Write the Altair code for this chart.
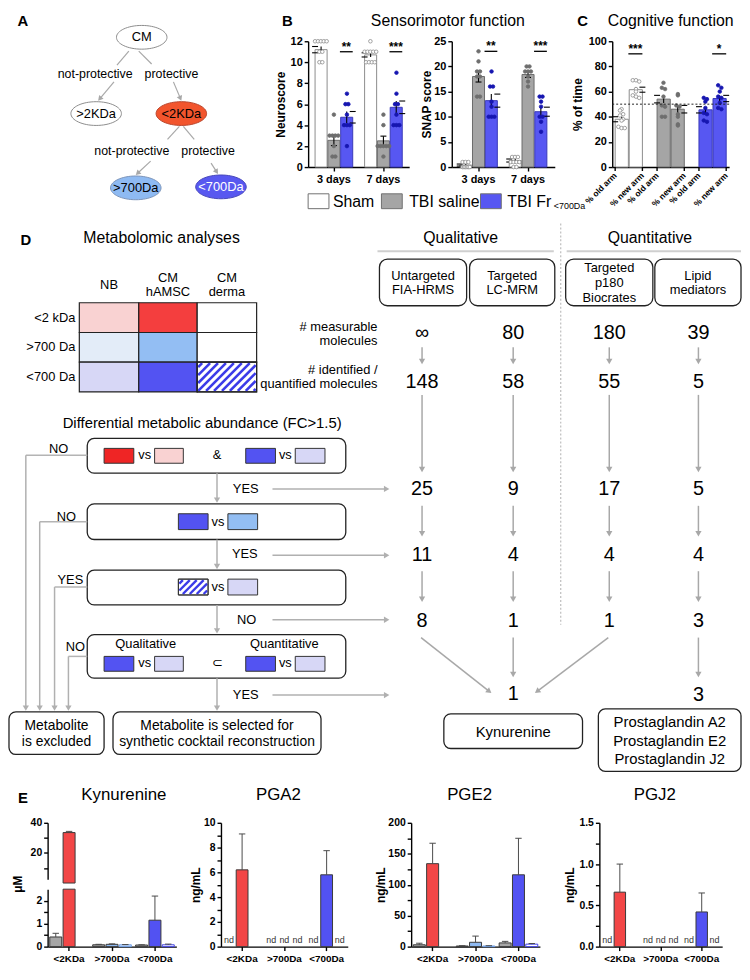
import altair as alt
import pandas as pd
import numpy as np
from collections import Counter

FONT = "Liberation Sans"

# =============================== DATA ===============================
groups = ["Sham", "TBI saline", "TBI Fr<700Da"]
days = ["3 days", "7 days"]

# B - Neuroscore
neuro_mean_3d = [11.2, 2.55, 4.75]
neuro_mean_7d = [10.7, 2.5, 5.7]
neuro_sem_3d = [0.3, 0.5, 0.55]
neuro_sem_7d = [0.2, 0.45, 0.6]
neuro_pts_3d = [[12, 12, 12, 12, 12, 11, 11, 10, 10], [5, 3, 3, 3, 3, 2, 1, 1], [7, 6, 6, 5, 4, 4, 4, 2]]
neuro_pts_7d = [[12, 11, 11, 11, 11, 11, 10, 10, 10, 10], [5, 4, 2, 2, 2, 2, 2, 1], [9, 7, 6, 6, 5, 4, 4, 4]]
neuro_stars = ["**", "***"]
neuro_ticks = [0, 2, 4, 6, 8, 10, 12]

# B - SNAP score
snap_mean_3d = [0.4, 18.0, 13.2]
snap_mean_7d = [1.3, 18.4, 11.0]
snap_sem_3d = [0.2, 1.1, 1.3]
snap_sem_7d = [0.3, 0.6, 0.9]
snap_pts_3d = [[1, 1, 1, 0, 0, 0, 0, 0, 0], [23, 21, 19, 19, 18, 18, 14, 14], [19, 16, 16, 13, 12, 10, 10, 10]]
snap_pts_7d = [[2, 2, 2, 1, 1, 1, 1, 0, 0], [20, 20, 19, 19, 19, 18, 17, 16], [14, 14, 13, 12, 10, 10, 9, 7]]
snap_stars = ["**", "***"]
snap_ticks = [0, 5, 10, 15, 20, 25]

# C - cognitive function, % of time
arms = ["% old arm", "% new arm"]
cog_mean_old = [38.0, 54.0, 45.5]
cog_mean_new = [61.5, 46.0, 54.5]
cog_sem_old = [2.0, 3.0, 2.5]
cog_sem_new = [2.0, 3.0, 2.5]
cog_pts_old = [[46, 45, 42, 41, 38, 37, 32, 31, 31], [67, 63, 62, 56, 49, 48, 40, 40], [55, 54, 52, 47, 43, 42, 37, 36]]
cog_pts_new = [[69, 69, 68, 62, 60, 57, 56, 55], [58, 57, 49, 48, 42, 40, 34, 33], [65, 63, 60, 56, 55, 51, 47, 46]]
cog_stars = ["***", "", "*"]
cog_ticks = [0, 20, 40, 60, 80, 100]
cog_chance = 50

# A - fractionation tree
a_nodes = ["CM", ">2KDa", "<2KDa", ">700Da", "<700Da"]
a_edge_labels = ["not-protective", "protective", "not-protective", "protective"]

# D - metabolomic analyses
table_cols = [["NB"], ["CM", "hAMSC"], ["CM", "derma"]]
table_rows = ["<2 kDa", ">700 Da", "<700 Da"]
methods = [["Untargeted", "FIA-HRMS"], ["Targeted", "LC-MRM"], ["Targeted", "p180", "Biocrates"], ["Lipid", "mediators"]]
n_measurable = ["\u221e", "80", "180", "39"]
n_identified = ["148", "58", "55", "5"]
n_fc = ["25", "9", "17", "5"]
n_vs700 = ["11", "4", "4", "4"]
n_not_derma = ["8", "1", "1", "3"]
n_final = ["1", "3"]
selected = [["Kynurenine"], ["Prostaglandin A2", "Prostaglandin E2", "Prostaglandin J2"]]

# E - concentrations (fraction x source), None = not present
fractions = ["<2KDa", ">700Da", "<700Da"]
sources = ["NB", "CM hAMSC", "CM derma"]
kyn_mean = [0.42, 33.5, None, 0.08, 0.10, 0.08, 0.07, 1.15, 0.08]
kyn_err = [0.16, 0.8, None, 0.02, 0.02, 0.01, 0.01, 1.05, 0.03]
kyn_break = 2.5
pga2_mean = [None, 6.2, None, None, None, None, None, 5.8, None]
pga2_err = [None, 2.9, None, None, None, None, None, 1.95, None]
pga2_nd = [True, False, False, True, True, True, True, False, True]
pge2_mean = [3.0, 134.0, None, 1.0, 7.0, 1.0, 6.0, 116.0, 4.0]
pge2_err = [2.5, 33.0, None, 0.5, 10.0, 0.5, 2.5, 59.0, 1.0]
pgj2_mean = [None, 0.66, None, None, None, None, None, 0.42, None]
pgj2_err = [None, 0.34, None, None, None, None, None, 0.23, None]
pgj2_nd = [True, False, False, True, True, True, True, False, True]

# =============================== STYLE / LAYOUT ===============================
W_ALL, H_ALL = 734, 958
BAR_FILL = ["#FFFFFF", "#A5A5A5", "#5757F2"]
BAR_STROKE = ["#8C8C8C", "#6B6B6B", "#3A3AB8"]
PT_FILL = ["#FFFFFF", "#6E6E6E", "#1616B0"]
PT_STROKE = ["#8C8C8C", "#6E6E6E", "#1616B0"]
E_KEYS = [f"{f}|{s}" for f in fractions for s in sources]
E_FILL = ["#A6A6A6", "#F24646", "#FFFFFF", "#A6A6A6", "#8FBAF2", "#C9DCF6", "#A6A6A6", "#5252F2", "#FFFFFF"]
E_STROKE = ["#3A3A3A", "#3A3A3A", "#3A3A3A", "#3A3A3A", "#3A3A3A", "#6E9EE6", "#3A3A3A", "#3A3A3A", "#3F3FE6"]
RED, REDDOT = "#EF2525", "#F9D2D2"
BLUE, BLUEDOT = "#5353F2", "#D7D7F6"
LBLUE, LBLUEDOT = "#93BEF3", "#E3ECF8"
STRIPE = "#3B3BE8"
ELLIPSE = "M-1,0A1,0.47,0,1,1,1,0A1,0.47,0,1,1,-1,0Z"


def axis_style(**kw):
    base = dict(grid=False, domainColor="#000", domainWidth=1.4, tickColor="#000", tickWidth=1.4,
                tickSize=4, labelFont=FONT, labelFontWeight="bold", labelFontSize=11, labelColor="#000",
                labelPadding=2, titleFont=FONT, titleFontWeight="bold", titleFontSize=12, titleColor="#000")
    base.update(kw)
    return alt.Axis(**base)


class Canvas:
    """Pixel-unit drawing layers; positions given in reference-figure pixels, shifted by (ox, oy)."""

    def __init__(self, ox, oy):
        self.ox, self.oy = ox, oy
        self.layers = []

    def enc(self):
        return dict(
            x=alt.X("x:Q", scale=alt.Scale(domain=[0, W_ALL], range=[0, W_ALL], nice=False, zero=False), axis=None),
            y=alt.Y("y:Q", scale=alt.Scale(domain=[0, H_ALL], range=[0, H_ALL], nice=False, zero=False), axis=None))

    def text(self, items, size=13, weight="normal", align="center", color="#000", angle=None):
        df = pd.DataFrame([(float(x - self.ox), float(y - self.oy), t) for t, x, y in items], columns=["x", "y", "t"])
        kw = dict(font=FONT, fontSize=size, fontWeight=weight, align=align, baseline="middle", color=color)
        if angle is not None:
            kw["angle"] = angle
        self.layers.append(alt.Chart(df).mark_text(**kw).encode(text="t:N", **self.enc()))

    def rects(self, items, stroke="#222", sw=1.0, radius=0):
        df = pd.DataFrame([(float(x0 - self.ox), float(x1 - self.ox), float(y0 - self.oy), float(y1 - self.oy), f)
                           for x0, x1, y0, y1, f in items], columns=["x", "x2", "y", "y2", "f"])
        kw = dict(stroke=stroke, strokeWidth=sw)
        if radius:
            kw["cornerRadius"] = radius
        self.layers.append(alt.Chart(df).mark_rect(**kw).encode(
            x2="x2:Q", y2="y2:Q", color=alt.Color("f:N", scale=None), **self.enc()))

    def lines(self, items, color="#B4B4B4", sw=1.5, dash=None):
        df = pd.DataFrame([(float(x0 - self.ox), float(y0 - self.oy), float(x1 - self.ox), float(y1 - self.oy))
                           for x0, y0, x1, y1 in items], columns=["x", "y", "x2", "y2"])
        kw = dict(color=color, strokeWidth=sw)
        if dash:
            kw["strokeDash"] = dash
        self.layers.append(alt.Chart(df).mark_rule(**kw).encode(x2="x2:Q", y2="y2:Q", **self.enc()))

    def arrows(self, items, color="#A8A8A8", sw=1.5, head=40):
        segs, heads = [], []
        hl = np.sqrt(3) / 4 * np.sqrt(head)
        for x0, y0, x1, y1 in items:
            dx, dy = x1 - x0, y1 - y0
            L = float(np.hypot(dx, dy))
            ux, uy = dx / L, dy / L
            hx, hy = x1 - ux * hl, y1 - uy * hl
            segs.append((x0, y0, hx, hy))
            heads.append((float(hx - self.ox), float(hy - self.oy), float((np.degrees(np.arctan2(dx, -dy)) + 360) % 360)))
        self.lines(segs, color, sw)
        df = pd.DataFrame(heads, columns=["x", "y", "a"])
        self.layers.append(alt.Chart(df).mark_point(shape="triangle-up", filled=True, size=head, color=color,
                                                    opacity=1, strokeWidth=0).encode(
            angle=alt.Angle("a:Q", scale=None), **self.enc()))

    def ellipses(self, items, width=51):
        df = pd.DataFrame([(float(x - self.ox), float(y - self.oy), f, k) for x, y, f, k in items],
                          columns=["x", "y", "f", "k"])
        self.layers.append(alt.Chart(df).mark_point(shape=ELLIPSE, filled=True, size=width ** 2, opacity=1,
                                                    strokeWidth=1).encode(
            color=alt.Color("f:N", scale=None), stroke=alt.Stroke("k:N", scale=None), **self.enc()))

    def stripes(self, x0, x1, y0, y1, spacing=8, sw=2.6):
        segs = []
        c = x0 + y0 + spacing / 2
        while c < x1 + y1:
            xa, xb = max(x0, c - y1), min(x1, c - y0)
            if xb > xa:
                segs.append((xa, c - xa, xb, c - xb))
            c += spacing
        self.lines(segs, STRIPE, sw)

    def chart(self):
        return alt.layer(*self.layers)


def slot_positions(values, binw, ns=9):
    keys = [int(np.floor(v / binw + 0.5)) for v in values]
    cnt, seen, out = Counter(keys), Counter(), []
    for k in keys:
        n, i = cnt[k], seen[k]
        seen[k] += 1
        sp = 2 if n <= 5 else 1
        p = int(np.floor(4 + sp * (i - (n - 1) / 2) + 0.5))
        out.append(min(max(p, 0), ns - 1))
    return out


def bar_panel(cats, subs, color_of, means, sems, pts, stars, sig_pair, sig_level, ymax, yticks, ytitle,
              x0, x1, y_top, y_bot, pin, pout, binw, title_pad, rotated=False, chance=None):
    bars, pnts, sl = [], [], []
    for ci, c in enumerate(cats):
        for si, s in enumerate(subs):
            m, e, g = means[ci][si], sems[ci][si], color_of(c, s)
            bars.append(dict(cat=c, sub=s, grp=g, v=m, lo=m - e, hi=m + e))
            vals = pts[ci][si]
            for v, p in zip(vals, slot_positions(vals, binw)):
                pnts.append(dict(cat=c, grp=g, v=v, ps=f"{si}_{p}"))
        if stars[ci]:
            sl.append(dict(cat=c, sub=subs[sig_pair[1]], v=sig_level, s=stars[ci]))
    dfb, dfp, dfs = pd.DataFrame(bars), pd.DataFrame(pnts), pd.DataFrame(sl)

    W = x1 - x0
    step = W / (len(cats) - pin + 2 * pout)
    sub_step = step * (1 - pin) / (len(subs) - 0.06)
    gap = float(sub_step * (sig_pair[1] - sig_pair[0]))

    xenc = alt.X("cat:N", scale=alt.Scale(domain=cats, range=[x0, x1], paddingInner=pin, paddingOuter=pout),
                 axis=axis_style(title="", labelAngle=0, labels=not rotated, ticks=not rotated, labelPadding=3,
                                 orient="bottom", offset=y_bot - H_ALL))
    yscale = alt.Scale(domain=[0, ymax], range=[y_bot, y_top], nice=False)
    yaxis = axis_style(values=yticks, title=ytitle, titlePadding=title_pad, orient="left", offset=-x0)

    def Y(f):
        return alt.Y(f, scale=yscale, axis=yaxis)

    xo = alt.XOffset("sub:N", scale=alt.Scale(domain=subs, paddingInner=0.06, paddingOuter=0))
    pdom = [f"{si}_{p}" for si in range(len(subs)) for p in range(9)]
    xop = alt.XOffset("ps:N", scale=alt.Scale(domain=pdom, paddingInner=0, paddingOuter=0))

    layers = [
        alt.Chart(dfb).mark_bar(strokeWidth=1).encode(
            x=xenc, xOffset=xo, y=Y("v:Q"),
            color=alt.Color("grp:N", scale=alt.Scale(domain=groups, range=BAR_FILL), legend=None),
            stroke=alt.Stroke("grp:N", scale=alt.Scale(domain=groups, range=BAR_STROKE), legend=None)),
        alt.Chart(dfb).mark_rule(color="#000", strokeWidth=1.1).encode(x=xenc, xOffset=xo, y=Y("lo:Q"), y2="hi:Q"),
        alt.Chart(dfb).mark_point(shape="M-1,0L1,0", size=36, filled=False, color="#000", strokeWidth=1.1,
                                  opacity=1).encode(x=xenc, xOffset=xo, y=Y("hi:Q")),
        alt.Chart(dfb).mark_point(shape="M-1,0L1,0", size=36, filled=False, color="#000", strokeWidth=1.1,
                                  opacity=1).encode(x=xenc, xOffset=xo, y=Y("lo:Q")),
        alt.Chart(dfp).mark_circle(size=13, opacity=1, strokeWidth=0.8).encode(
            x=xenc, xOffset=xop, y=Y("v:Q"),
            fill=alt.Fill("grp:N", scale=alt.Scale(domain=groups, range=PT_FILL), legend=None),
            stroke=alt.Stroke("grp:N", scale=alt.Scale(domain=groups, range=PT_STROKE), legend=None)),
    ]
    if len(dfs):
        layers.append(alt.Chart(dfs).mark_point(shape="M-2,0L0,0", size=gap ** 2, filled=False, color="#000",
                                                strokeWidth=1.3, opacity=1).encode(x=xenc, xOffset=xo, y=Y("v:Q")))
        layers.append(alt.Chart(dfs).mark_text(font=FONT, fontSize=12, fontWeight="bold", baseline="alphabetic",
                                               dx=-gap / 2, dy=-1).encode(x=xenc, xOffset=xo, y=Y("v:Q"), text="s:N"))
    if rotated:
        dfl = dfb[["cat", "sub"]]
        layers.append(alt.Chart(dfl).mark_point(shape="M0,0L0,2", size=16, filled=False, color="#000",
                                                strokeWidth=1.4, opacity=1).encode(x=xenc, xOffset=xo,
                                                                                   y=alt.value(y_bot)))
        layers.append(alt.Chart(dfl).mark_text(font=FONT, fontSize=8.5, fontWeight="bold", angle=315, align="right",
                                               baseline="middle").encode(x=xenc, xOffset=xo, y=alt.value(y_bot + 7),
                                                                         text="sub:N"))
    if chance is not None:
        layers.append(alt.Chart(pd.DataFrame({"v": [chance]})).mark_rule(color="#222", strokeWidth=1,
                                                                          strokeDash=[2, 2]).encode(
            x=alt.value(x0), x2=alt.value(x1), y=Y("v:Q")))
    return alt.layer(*layers).resolve_scale(xOffset="independent", color="independent", fill="independent",
                                            stroke="independent")


def e_rows(mean, err, nd):
    rows, nds = [], []
    for fi, f in enumerate(fractions):
        for si, s in enumerate(sources):
            k = fi * len(sources) + si
            if mean[k] is not None:
                rows.append(dict(frac=f, src=s, key=f"{f}|{s}", m=mean[k], top=mean[k] + err[k]))
            if nd is not None and nd[k]:
                nds.append(dict(frac=f, src=s, z=0, t="nd"))
    return rows, nds


def e_x(x0, x1, y_bot):
    xaxis = axis_style(title="", labelAngle=0, labelFontSize=10, labelPadding=3, orient="bottom",
                       offset=y_bot - H_ALL)
    return (alt.X("frac:N", scale=alt.Scale(domain=fractions, range=[x0, x1], paddingInner=0.1, paddingOuter=0.05),
                  axis=xaxis),
            alt.XOffset("src:N", scale=alt.Scale(domain=sources, paddingInner=0.1)))


def e_bars(rows, Y, xenc, xo, bar_y2=None):
    if not rows:
        return []
    benc = dict(x=xenc, xOffset=xo, y=Y("m:Q"),
                color=alt.Color("key:N", scale=alt.Scale(domain=E_KEYS, range=E_FILL), legend=None),
                stroke=alt.Stroke("key:N", scale=alt.Scale(domain=E_KEYS, range=E_STROKE), legend=None))
    if bar_y2 is not None:
        benc["y2"] = alt.value(bar_y2)
    return [alt.Chart(pd.DataFrame(rows)).mark_bar(strokeWidth=1).encode(**benc)]


def e_errs(rows, Y, xenc, xo):
    if not rows:
        return []
    dfb = pd.DataFrame(rows)
    return [alt.Chart(dfb).mark_rule(color="#4A4A4A", strokeWidth=1).encode(x=xenc, xOffset=xo, y=Y("m:Q"), y2="top:Q"),
            alt.Chart(dfb).mark_point(shape="M-1,0L1,0", size=42, filled=False, color="#4A4A4A", strokeWidth=1,
                                      opacity=1).encode(x=xenc, xOffset=xo, y=Y("top:Q"))]


def e_panel(mean, err, nd, x0, x1, y_top, y_bot, ydom, yticks, lexpr, ytitle, title_pad=2):
    rows, nds = e_rows(mean, err, nd)
    xenc, xo = e_x(x0, x1, y_bot)
    yscale = alt.Scale(domain=ydom, range=[y_bot, y_top], nice=False, zero=False)
    yaxis = axis_style(values=yticks, labelExpr=lexpr, title=ytitle, titlePadding=title_pad, labelFontSize=10.5,
                       orient="left", offset=-x0)

    def Y(f):
        return alt.Y(f, scale=yscale, axis=yaxis)

    layers = e_bars(rows, Y, xenc, xo) + e_errs(rows, Y, xenc, xo)
    if nds:
        layers.append(alt.Chart(pd.DataFrame(nds)).mark_text(font=FONT, fontSize=9, color="#333", dy=-7).encode(
            x=xenc, xOffset=xo, y=Y("z:Q"), text="t:N"))
    return alt.layer(*layers).resolve_scale(color="independent", stroke="independent")


def kyn_panel(x0, x1, y_top, y_bot, up_h, gap):
    rows, _ = e_rows(kyn_mean, kyn_err, None)
    xenc, xo = e_x(x0, x1, y_bot)
    up_scale = alt.Scale(domain=[kyn_break, 40], range=[y_top + up_h, y_top], nice=False, zero=False)
    lo_scale = alt.Scale(domain=[0, kyn_break], range=[y_bot, y_top + up_h + gap], nice=False, clamp=True)
    up_axis = axis_style(values=[10, 20, 30, 40], labelExpr="datum.value % 20 == 0 ? format(datum.value, 'd') : ''",
                         title="", orient="left", offset=-x0, labelFontSize=10.5)
    lo_axis = axis_style(values=[0, 0.5, 1, 1.5, 2], labelExpr="datum.value % 1 == 0 ? format(datum.value, 'd') : ''",
                         title="", orient="left", offset=-x0, labelFontSize=10.5)

    def Yu(f):
        return alt.Y(f, scale=up_scale, axis=up_axis)

    def Yl(f):
        return alt.Y(f, scale=lo_scale, axis=lo_axis)

    up_rows = [r for r in rows if r["m"] > kyn_break]
    lo_err = [r for r in rows if r["top"] <= kyn_break]
    lower = alt.layer(*(e_bars(rows, Yl, xenc, xo) + e_errs(lo_err, Yl, xenc, xo)))
    upper = alt.layer(*(e_bars(up_rows, Yu, xenc, xo, bar_y2=y_top + up_h) + e_errs(up_rows, Yu, xenc, xo)))
    return alt.layer(lower, upper).resolve_scale(y="independent", color="independent", stroke="independent")


# =============================== ROW 1 : panels A, B, C (diagram parts) ===============================
r1 = Canvas(6, 4)
r1.text([("A", 20, 12), ("B", 287, 12), ("C", 585, 12)], size=15, weight="bold")
r1.text([("Sensorimotor function", 449, 12), ("Cognitive function", 674, 12)], size=16)
a_pos = [(140, 28), (94, 105), (180, 105), (134, 180), (220, 179)]
a_fill = ["#FFFFFF", "#FFFFFF", "#F2552D", "#8EBAF2", "#5858F0"]
a_line = ["#8C8C8C", "#8C8C8C", "#B8442A", "#7A93B8", "#4646B8"]
a_txt = ["#000", "#000", "#000", "#000", "#FFF"]
r1.lines([(127, 42, 115, 56), (137, 42, 150, 55), (178, 118, 166, 131), (182, 118, 193, 131)], color="#A8A8A8", sw=1.2)
r1.arrows([(112, 73, 96, 92), (172, 73, 180, 92), (149, 153, 134, 167), (210, 155, 217, 166)], color="#A8A8A8",
          sw=1.2, head=34)
r1.ellipses([(p[0], p[1], f, k) for p, f, k in zip(a_pos, a_fill, a_line)])
for n, p, c in zip(a_nodes, a_pos, a_txt):
    r1.text([(n, p[0], p[1])], size=13, color=c)
r1.text(list(zip(a_edge_labels, [93, 170, 130, 207], [65, 65, 143, 143])), size=12.5)
leg_x = [308, 382, 482]
r1.rects([(x, x + 21, 186, 201, f) for x, f in zip(leg_x, BAR_FILL)], stroke="#707070", sw=1)
fr_main, fr_sub = groups[2].split("<")
r1.text([(groups[0], 333, 194), (groups[1], 410, 194), (fr_main, 509, 194)], size=16, align="left")
r1.text([("<" + fr_sub, 556, 198)], size=9, align="left")

B1 = bar_panel(days, groups, lambda c, s: s, [neuro_mean_3d, neuro_mean_7d], [neuro_sem_3d, neuro_sem_7d],
               [neuro_pts_3d, neuro_pts_7d], neuro_stars, (1, 2), 11, 12, neuro_ticks, "Neuroscore",
               302, 404, 28, 155, 0.24, 0.14, 1, 3)
B2 = bar_panel(days, groups, lambda c, s: s, [snap_mean_3d, snap_mean_7d], [snap_sem_3d, snap_sem_7d],
               [snap_pts_3d, snap_pts_7d], snap_stars, (1, 2), 23, 25, snap_ticks, "SNAP score",
               447, 551, 28, 155, 0.24, 0.16, 1, 0)
CC = bar_panel(groups, arms, lambda c, s: c, [list(p) for p in zip(cog_mean_old, cog_mean_new)],
               [list(p) for p in zip(cog_sem_old, cog_sem_new)], [list(p) for p in zip(cog_pts_old, cog_pts_new)],
               cog_stars, (0, 1), 90, 100, cog_ticks, "% of time", 609, 727, 28, 155, 0.35, 0.07, 4, 4,
               rotated=True, chance=cog_chance)

# =============================== ROW 2 : panel D (+ E headers) ===============================
d = Canvas(6, 20)
d.text([("D", 23, 249), ("E", 20, 812)], size=15, weight="bold")
d.text([("Metabolomic analyses", 160, 247), ("Qualitative", 462, 247), ("Quantitative", 653, 247)], size=16)
d.lines([(378, 260, 556, 260), (569, 260, 745, 260)], color="#CFCFCF", sw=2)
d.lines([(563, 232, 563, 637)], color="#BDBDBD", sw=1.2, dash=[2, 2])

tcols = [(77, 137), (137, 196), (196, 256)]
trows = [(312, 342), (342, 372), (372, 402)]
tfill = [[REDDOT, "#F43E3E", "#FFFFFF"], [LBLUEDOT, LBLUE, "#FFFFFF"], [BLUEDOT, BLUE, "#FFFFFF"]]
d.rects([(c[0], c[1], r[0], r[1], tfill[ri][ci]) for ri, r in enumerate(trows) for ci, c in enumerate(tcols)],
        stroke="#222", sw=1.2)
d.stripes(197, 255, 373, 401)
d.rects([(196, 256, 372, 402, "transparent")], stroke="#222", sw=1.2)
hdr = []
for lines_, c in zip(table_cols, tcols):
    cx = (c[0] + c[1]) / 2
    for j, ln in enumerate(lines_):
        hdr.append((ln, cx, 294 + (j - (len(lines_) - 1) / 2) * 14))
d.text(hdr, size=13)
d.text([(t, 73, (r[0] + r[1]) / 2) for t, r in zip(table_rows, trows)], size=13, align="right")
d.text([("# measurable", 378, 336), ("molecules", 378, 351), ("# identified /", 378, 380),
        ("quantified molecules", 378, 394)], size=13, align="right")

mboxes = [(380, 468), (471, 557), (568, 656), (658, 745)]
d.rects([(b[0], b[1], 268, 315, "#FFFFFF") for b in mboxes], stroke="#222", sw=1.3, radius=8)
mt = []
for lines_, b in zip(methods, mboxes):
    cx = (b[0] + b[1]) / 2
    for j, ln in enumerate(lines_):
        mt.append((ln, cx, 292 + (j - (len(lines_) - 1) / 2) * 14.8))
d.text(mt, size=13)

col_x = [423, 515, 612, 702]
num_rows = [(343, n_measurable), (392, n_identified), (500, n_fc), (567, n_vs700), (633, n_not_derma)]
d.text([(v, x, y) for y, vals in num_rows for v, x in zip(vals, col_x)], size=20)
d.text([(n_final[0], 515, 707), (n_final[1], 702, 708)], size=20)
col_arrows = []
for y0, y1 in [(357, 374), (405, 483), (517, 548), (583, 614)]:
    col_arrows += [(x, y0, x, y1) for x in col_x]
col_arrows += [(422, 650, 493, 706), (515, 650, 515, 690), (611, 650, 537, 706), (702, 650, 702, 690)]
d.arrows(col_arrows, color="#A8A8A8", sw=1.5, head=40)

d.text([("Differential metabolic abundance (FC>1.5)", 201, 433)], size=15)
d.rects([(85, 346, 449, 484, "#FFFFFF"), (85, 346, 515, 551, "#FFFFFF"), (85, 346, 582, 617, "#FFFFFF"),
         (85, 346, 647, 691, "#FFFFFF"), (6, 102, 725, 768, "#FFFFFF"), (111, 321, 725, 768, "#FFFFFF"),
         (445, 585, 727, 762, "#FFFFFF"), (601, 745, 722, 785, "#FFFFFF")], stroke="#222", sw=1.3, radius=7)
d.rects([(102, 132, 459, 474, RED), (153, 182, 459, 474, REDDOT), (245, 275, 459, 474, BLUE),
         (295, 325, 459, 474, BLUEDOT),
         (177, 207, 525, 541, BLUE), (227, 257, 525, 541, LBLUE),
         (177, 207, 591, 607, "#FFFFFF"), (227, 257, 591, 607, BLUEDOT),
         (102, 132, 669, 684, BLUE), (153, 182, 669, 684, BLUEDOT), (245, 275, 669, 684, BLUE),
         (295, 325, 669, 684, BLUEDOT)], stroke="#333", sw=1)
d.stripes(178, 206, 592, 606, spacing=7, sw=2.4)
d.rects([(177, 207, 591, 607, "transparent")], stroke="#333", sw=1)
d.text([("vs", 143, 466), ("&", 216, 466), ("vs", 285, 466), ("vs", 217, 533), ("vs", 217, 599),
        ("Qualitative", 144, 657), ("Quantitative", 284, 657), ("vs", 143, 676), ("\u2282", 216, 676),
        ("vs", 285, 676)], size=13)
d.text([("NO", 56, 460), ("YES", 245, 500), ("NO", 64, 528), ("YES", 244, 566), ("YES", 68, 592),
        ("NO", 246, 632), ("NO", 73, 660), ("YES", 245, 708)], size=13)
d.lines([(85, 466, 23, 466), (85, 533, 37, 533), (85, 599, 52, 599), (85, 669, 66, 669)], color="#B4B4B4", sw=1.5)
d.arrows([(23, 466, 23, 724), (37, 533, 37, 724), (52, 599, 52, 724), (66, 669, 66, 724),
          (216, 484, 216, 514), (216, 551, 216, 581), (216, 617, 216, 646), (216, 691, 216, 724),
          (272, 500, 390, 500), (272, 567, 390, 567), (272, 632, 390, 632), (272, 708, 390, 708)],
         color="#B0B0B0", sw=1.5, head=40)
d.text([("Metabolite", 54, 739), ("is excluded", 54, 755), ("Metabolite is selected for", 216, 739),
        ("synthetic cocktail reconstruction", 216, 755)], size=14)
d.text([(selected[0][0], 515, 745)] + [(t, 673, 735 + 19 * j) for j, t in enumerate(selected[1])], size=15)

d.text([("Kynurenine", 122, 809), ("PGA2", 278, 809), ("PGE2", 471, 809), ("PGJ2", 658, 809)], size=17)
d.text([("\u03bcM", 15, 899)], size=12, weight="bold", angle=270)

# =============================== ROW 3 : panel E ===============================
kyn = kyn_panel(39, 169, 817, 942, 57, 10)
pga2 = e_panel(pga2_mean, pga2_err, pga2_nd, 214, 342, 817, 942, [0, 10], list(range(11)),
               "datum.value % 2 == 0 ? format(datum.value, 'd') : ''", "ng/mL", title_pad=1)
pge2 = e_panel(pge2_mean, pge2_err, None, 406, 536, 817, 942, [0, 200], list(range(0, 201, 25)),
               "datum.value % 50 == 0 ? format(datum.value, 'd') : ''", "ng/mL", title_pad=0)
pgj2 = e_panel(pgj2_mean, pgj2_err, pgj2_nd, 596, 720, 817, 942, [0, 1.5], [0, 0.25, 0.5, 0.75, 1, 1.25, 1.5],
               "(datum.value * 4) % 2 == 0 ? format(datum.value, '.1f') : ''", "ng/mL", title_pad=3)

chart = alt.layer(r1.chart(), B1, B2, CC, d.chart(), kyn, pga2, pge2, pgj2).resolve_scale(
    x="independent", y="independent", xOffset="independent", color="independent", fill="independent",
    stroke="independent").properties(width=W_ALL, height=H_ALL, padding=0)
chart = chart.configure(font=FONT).configure_view(strokeWidth=0)
chart.save("out.html", embed_options={"renderer": "svg", "actions": False})
